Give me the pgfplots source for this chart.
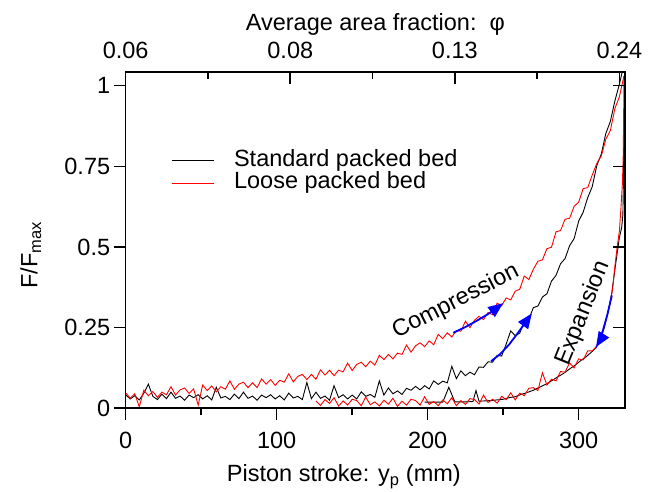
\documentclass[border=0pt]{standalone}
\usepackage{fontspec}
\setmainfont{Liberation Sans}
\usepackage{pgfplots}
\pgfplotsset{compat=1.18}
\usetikzlibrary{arrows.meta}
\newcommand{\fs}{\fontsize{23.5}{27}\selectfont}

% compression, standard packed bed
\pgfplotstableread{
x y
0 0.042
3 0.029
6 0.039
9 0.026
12 0.047
15 0.075
18 0.037
21 0.027
24 0.044
27 0.030
30 0.050
33 0.031
36 0.038
39 0.025
42 0.041
45 0.033
48 0.042
51 0.029
54 0.039
57 0.026
60 0.065
63 0.032
66 0.037
69 0.027
72 0.044
75 0.030
78 0.050
81 0.031
84 0.038
87 0.025
90 0.041
93 0.033
96 0.042
99 0.029
102 0.039
105 0.026
108 0.047
111 0.032
114 0.037
117 0.027
120 0.080
123 0.030
126 0.050
129 0.031
132 0.038
135 0.025
138 0.070
141 0.033
144 0.042
147 0.029
150 0.041
153 0.029
156 0.051
159 0.037
162 0.043
165 0.034
168 0.085
171 0.041
174 0.063
177 0.045
180 0.054
183 0.043
186 0.062
189 0.056
192 0.068
195 0.057
198 0.070
201 0.060
204 0.085
207 0.074
210 0.084
213 0.079
216 0.130
219 0.092
222 0.116
225 0.101
228 0.112
231 0.104
234 0.128
237 0.127
240 0.144
243 0.143
246 0.164
249 0.162
252 0.199
255 0.240
258 0.225
261 0.233
264 0.270
267 0.276
270 0.312
273 0.317
276 0.345
279 0.355
282 0.394
285 0.412
288 0.448
291 0.464
294 0.504
297 0.526
300 0.580
303 0.608
306 0.653
309 0.687
312 0.752
315 0.788
318 0.852
321 0.889
324 0.953
327 1.005
329 1.045
}\stdcomp

% expansion, standard packed bed
\pgfplotstableread{
x y
330 0.93
329.7 0.72
329.3 0.60
328.5 0.56
327 0.53
325.5 0.48
324 0.43
322 0.36
320 0.31
317 0.25
314 0.21
311 0.185
308 0.172
305 0.160
302 0.150
298 0.135
294 0.122
290 0.108
286 0.097
282 0.085
278 0.074
274 0.065
270 0.056
266 0.049
262 0.043
258 0.036
254 0.033
250 0.028
246 0.026
242 0.024
238 0.023
234 0.022
232 0.055
230 0.021
226 0.020
222 0.020
218 0.020
214 0.065
210 0.019
206 0.019
202 0.019
198 0.019
}\stdexp

% compression, loose packed bed
\pgfplotstableread{
x y
0 0.048
3 0.031
6 0.045
9 0.005
12 0.056
15 0.039
18 0.052
21 0.034
24 0.050
27 0.042
30 0.067
33 0.041
36 0.057
39 0.063
42 0.046
45 0.060
48 0.010
51 0.072
54 0.055
57 0.069
60 0.051
63 0.067
66 0.059
69 0.085
72 0.059
75 0.075
78 0.081
81 0.064
84 0.079
87 0.064
90 0.091
93 0.075
96 0.089
99 0.071
102 0.087
105 0.081
108 0.107
111 0.082
114 0.099
117 0.105
120 0.089
123 0.105
126 0.090
129 0.119
132 0.103
135 0.118
138 0.101
141 0.118
144 0.113
147 0.140
150 0.117
153 0.136
156 0.143
159 0.129
162 0.146
165 0.134
168 0.164
171 0.151
174 0.167
177 0.153
180 0.171
183 0.167
186 0.196
189 0.174
192 0.194
195 0.203
198 0.191
201 0.209
204 0.197
207 0.229
210 0.216
213 0.234
216 0.221
219 0.241
222 0.239
225 0.270
228 0.250
231 0.273
234 0.285
237 0.275
240 0.297
243 0.290
246 0.326
249 0.318
252 0.342
255 0.336
258 0.363
261 0.369
264 0.410
267 0.399
270 0.431
273 0.456
276 0.460
279 0.495
282 0.499
285 0.547
288 0.551
291 0.586
294 0.589
297 0.626
300 0.639
303 0.681
306 0.684
309 0.723
312 0.759
315 0.782
318 0.834
321 0.861
324 0.929
327 0.966
330 1.03
}\loosecomp

% expansion, loose packed bed
\pgfplotstableread{
x y
330 1.03
329.8 0.90
329.5 0.78
329 0.70
328 0.62
327 0.55
325.5 0.50
324 0.44
322.5 0.37
321 0.33
319 0.29
317 0.255
315 0.225
313 0.200
311 0.188
309 0.178
306 0.178
303 0.150
300 0.153
297 0.125
294 0.141
291 0.112
288 0.114
285 0.085
282 0.090
279 0.072
276 0.110
273 0.055
270 0.064
267 0.062
264 0.039
261 0.047
258 0.026
255 0.048
252 0.027
249 0.037
246 0.016
243 0.028
240 0.018
237 0.041
234 0.013
231 0.027
228 0.030
225 0.012
222 0.024
219 0.008
216 0.033
213 0.014
210 0.026
207 0.008
204 0.021
201 0.012
198 0.036
195 0.010
192 0.024
189 0.028
186 0.010
183 0.022
180 0.006
177 0.031
174 0.013
171 0.025
168 0.007
165 0.020
162 0.011
159 0.035
156 0.008
153 0.024
150 0.028
147 0.010
144 0.023
141 0.007
138 0.033
135 0.015
132 0.027
129 0.009
126 0.023
}\looseexp

\begin{document}
\begin{tikzpicture}
\useasboundingbox (-125.7pt,-83.7pt) rectangle (525.3pt,408.3pt);
\pgfplotsset{
  common/.style={
    at={(0,0)}, anchor=south west,
    width=499.3pt, height=336pt, scale only axis,
    xmin=0, xmax=330.7, ymin=0, ymax=1.0415,
    axis line style={line width=1.6pt},
    every tick/.style={black, line width=1.6pt},
    major tick length=12pt, minor tick length=7pt,
    tick label style={font=\fs},
    label style={font=\fs},
    /pgf/number format/assume math mode=true,
  }
}
\begin{axis}[
  common,
  tick align=outside,
  xtick pos=left, ytick pos=left,
  xtick={0,100,200,300}, xticklabels={0,100,200,300},
  minor xtick={50,150,250},
  xticklabel style={yshift=-8pt},
  ytick={0,0.25,0.5,0.75,1}, yticklabels={0,0.25,0.5,0.75,1},
  xlabel={Piston stroke: y\textsubscript{p} (mm)},
  xlabel style={at={(axis description cs:0.437,0)}, anchor=north, yshift=-53pt},
  ylabel={F/F\textsubscript{max}},
  ylabel style={at={(axis description cs:-0.19,0.456)}, anchor=center, rotate=0},
  legend style={draw=none, fill=none, font=\fs,
    at={(axis cs:28,0.7325)}, anchor=west,
    nodes={inner sep=0pt, text height=17pt, text depth=5.6pt},
    column sep=20pt, row sep=0pt},
  legend cell align=left,
  legend image code/.code={\draw[#1] (0pt,0pt) -- (42pt,0pt);},
]
\addplot[black, line width=0.9pt] table[x=x, y=y] {\stdcomp};
\addlegendentry{Standard packed bed}
\addplot[black, line width=0.9pt, forget plot] table[x=x, y=y] {\stdexp};
\addplot[red, line width=0.9pt] table[x=x, y=y] {\loosecomp};
\addlegendentry{Loose packed bed}
\addplot[red, line width=0.9pt, forget plot] table[x=x, y=y] {\looseexp};

% direction arrows
\addplot[blue, line width=1.8pt, -{Triangle[length=15pt, width=12pt]}, forget plot]
  coordinates {(217,0.234) (225,0.252) (232,0.270) (240,0.292) (246,0.312) (250,0.326)};
\addplot[blue, line width=1.8pt, -{Triangle[length=15pt, width=12pt]}, forget plot]
  coordinates {(242,0.146) (248,0.168) (254,0.198) (260,0.235) (265,0.268) (269,0.294)};
\addplot[blue, line width=1.8pt, -{Triangle[length=15pt, width=12pt]}, forget plot]
  coordinates {(322,0.350) (319,0.290) (316,0.240) (313.5,0.205) (311.5,0.190)};

\node[font=\fs, rotate=27] at (axis cs:218.6,0.330) {Compression};
\node[font=\fs, rotate=68] at (axis cs:303,0.294) {Expansion};
\end{axis}

\begin{axis}[
  common,
  tick align=inside,
  xtick pos=right, xticklabel pos=right,
  xtick={0,109,218,327}, xticklabels={0.06,0.08,0.13,0.24},
  minor xtick={54.5,163.5,272.5},
  xticklabel style={yshift=10pt},
  ytick pos=right, yticklabel pos=right,
  ytick={0.25,0.5,0.75,1}, yticklabels={},
  xlabel={Average area fraction:\ \ φ},
]
\end{axis}
\end{tikzpicture}
\end{document}
